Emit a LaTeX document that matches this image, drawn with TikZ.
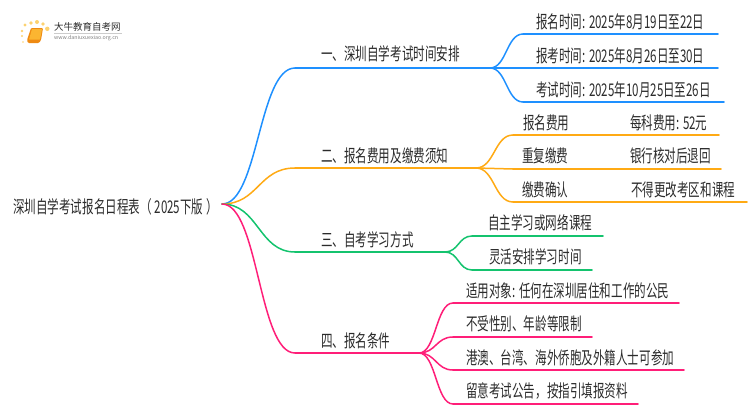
\documentclass[tikz,border=0pt]{standalone}
\usepackage{fontspec}
\setmainfont[FakeStretch=0.66]{Noto Sans CJK SC}
\newfontfamily\plainfont{Noto Sans CJK SC}
\usetikzlibrary{calc}
\definecolor{cblue}{HTML}{1E90FF}
\definecolor{corange}{HTML}{FFAA14}
\definecolor{cgreen}{HTML}{14C36E}
\definecolor{cpink}{HTML}{FF1E78}
\definecolor{ctext}{HTML}{2B2B2B}
\definecolor{bookdark}{HTML}{EE8A12}
\definecolor{booklight}{HTML}{FBB531}
\definecolor{dotc}{HTML}{FCD271}
\tikzset{
  x=1pt,y=-1pt,
  lbl/.style={anchor=west,inner sep=0pt,text=ctext,font=\fontsize{17.5}{19}\selectfont},
  wire/.style={line width=1.5pt,line cap=round},
  brB/.style={wire,cblue},brO/.style={wire,corange},brG/.style={wire,cgreen},brP/.style={wire,cpink}
}
\newcommand{\curve}[3]{% style, from, to
  \draw[#1] (#2) .. controls ($(#2)!0.5!(#3|-#2)$) and ($(#2)!0.5!(#3|-#2)+(#2|-#3)-(#2)$) .. (#3);}
\begin{document}
\begin{tikzpicture}
\useasboundingbox (0,0) rectangle (750,410);
% logo
\fill[bookdark,rounded corners=1pt] (31,28) -- (43,28) -- (41,40) -- (39,43) -- (28,43) -- (27,40) -- cycle;
\fill[booklight,rounded corners=.5pt] (32,29) -- (42,29) -- (40,39.5) -- (29,39.5) -- cycle;
\foreach \a/\b/\r in {25/25/1.7,31/23/1.9,37/22/2,43/24/1.9,47.3/28.8/2.2,22/31/1.3,22/36/1.1,23/42/.9}{
  \fill[dotc] (\a,\b) circle (\r);}
\node[inner sep=0pt,anchor=west,text=ctext,font=\plainfont\fontsize{9.5}{10}\selectfont] (logotitle) at (54,27) {大牛教育自考网};
\draw[gray!40,line width=.5pt] (54,33) -- (122,33);
\node[inner sep=0pt,anchor=west,text=gray,font=\plainfont\fontsize{5.3}{6}\selectfont] (logourl) at (54,38.5) {www.daniuxuexiao.org.cn};
% coordinates
\coordinate (root) at (222,204);
\coordinate (a0) at (295,68);\coordinate (a) at (490,68);
\coordinate (b0) at (295,168);\coordinate (b) at (476,168);
\coordinate (c0) at (295,252);\coordinate (c) at (445,252);
\coordinate (d0) at (295,353);\coordinate (d) at (419,353);
\foreach \n/\x/\ex/\y in {a1/523/718/34,a2/523/718/68,a3/523/724/102,b1/513/719/135,b2/513/721/169,b3/513/747/202,c1/472/603/236,c2/472/592/270,d1/453/679/303,d2/453/592/337,d3/453/684/370,d4/453/638/404}{
  \coordinate (\n) at (\x,\y);\coordinate (\n e) at (\ex,\y);}
% connectors
\curve{brB}{root}{a0}\draw[brB] (a0) -- (a);
\curve{brO}{root}{b0}\draw[brO] (b0) -- (b);
\curve{brG}{root}{c0}\draw[brG] (c0) -- (c);
\curve{brP}{root}{d0}\draw[brP] (d0) -- (d);
\foreach \n in {1,2,3}{\curve{brB}{a}{a\n}\draw[brB] (a\n) -- (a\n e);}
\foreach \n in {1,2,3}{\curve{brO}{b}{b\n}\draw[brO] (b\n) -- (b\n e);}
\foreach \n in {1,2}{\curve{brG}{c}{c\n}\draw[brG] (c\n) -- (c\n e);}
\foreach \n in {1,2,3,4}{\curve{brP}{d}{d\n}\draw[brP] (d\n) -- (d\n e);}
% labels
\node[lbl] (troot) at (13,206.5) {深圳自学考试报名日程表（\,2025下版\,）};
\node[lbl] (ta) at (321,54) {一、深圳自学考试时间安排};
\node[lbl] (tb) at (321,155.5) {二、报名费用及缴费须知};
\node[lbl] (tc) at (321,240) {三、自考学习方式};
\node[lbl] (td) at (321,340.5) {四、报名条件};
\node[lbl] (ta1) at (536,21.5) {报名时间: 2025年8月19日至22日};
\node[lbl] (ta2) at (536,55.5) {报考时间: 2025年8月26日至30日};
\node[lbl] (ta3) at (536,89.5) {考试时间: 2025年10月25日至26日};
\node[lbl] (tb1) at (523,122.5) {报名费用};
\node[lbl] (tb2) at (522,155.5) {重复缴费};
\node[lbl] (tb3) at (522,189.5) {缴费确认};
\node[lbl] (tb1r) at (630,122.5) {每科费用: 52元};
\node[lbl] (tb2r) at (630,155.5) {银行核对后退回};
\node[lbl] (tb3r) at (631,189.5) {不得更改考区和课程};
\node[lbl] (tc1) at (488,222.5) {自主学习或网络课程};
\node[lbl] (tc2) at (489,257) {灵活安排学习时间};
\node[lbl] (td1) at (466,290.5) {适用对象: 任何在深圳居住和工作的公民};
\node[lbl] (td2) at (466,323.5) {不受性别、年龄等限制};
\node[lbl] (td3) at (466,357.5) {港澳、台湾、海外侨胞及外籍人士可参加};
\node[lbl] (td4) at (466,391.5) {留意考试公告，按指引填报资料};
\end{tikzpicture}
\end{document}
